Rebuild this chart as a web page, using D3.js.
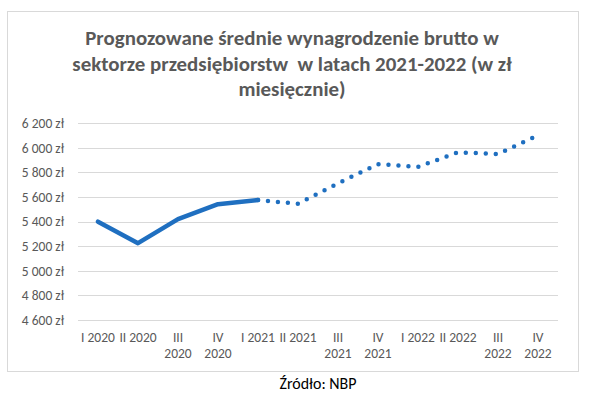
<!DOCTYPE html>
<html>
<head>
<meta charset="utf-8">
<script src="https://cdn.jsdelivr.net/npm/d3@7.9.0/dist/d3.min.js"></script>
<style>
  html, body { margin: 0; padding: 0; background: #fff; }
  svg text { font-family: Carlito, Calibri, Lato, "Open Sans", sans-serif; }
</style>
</head>
<body>
<svg id="chart" width="593" height="395"></svg>
<script>
// quarters shown on the x axis (multi-line labels as Excel wraps them)
const quarters = ['I 2020', 'II 2020', 'III 2020', 'IV 2020', 'I 2021', 'II 2021',
                  'III 2021', 'IV 2021', 'I 2022', 'II 2022', 'III 2022', 'IV 2022'];
const quarterLabels = [['I 2020'], ['II 2020'], ['III', '2020'], ['IV', '2020'],
                       ['I 2021'], ['II 2021'], ['III', '2021'], ['IV', '2021'],
                       ['I 2022'], ['II 2022'], ['III', '2022'], ['IV', '2022']];

// actual wages (solid) and forecast (dotted), null = no value
const actual   = [5400, 5225, 5420, 5542, 5576, null, null, null, null, null, null, null];
const forecast = [null, null, null, null, 5576, 5545, 5712, 5868, 5845, 5964, 5950, 6102];

const yTicks = [4600, 4800, 5000, 5200, 5400, 5600, 5800, 6000, 6200];

const titleLines = ['Prognozowane średnie wynagrodzenie brutto w',
                    'sektorze przedsiębiorstw \u00a0w latach 2021-2022 (w zł',
                    'miesięcznie)'];
const source = 'Źródło: NBP';

const svg = d3.select('#chart');
const lineColor = '#1f6fc0';
const textGray = '#595959';

// chart border
svg.append('rect')
  .attr('x', 7.5).attr('y', 11.5)
  .attr('width', 571).attr('height', 360)
  .attr('fill', '#fff')
  .attr('stroke', '#d9d9d9').attr('stroke-width', 1);

// scales
const x = d3.scaleBand().domain(quarters).range([78, 558]);
const y = d3.scaleLinear().domain([4600, 6200]).range([320, 123.3]);
const cx = (q) => x(q) + x.bandwidth() / 2;

// gridlines
svg.append('g')
  .selectAll('line')
  .data(yTicks)
  .join('line')
  .attr('x1', 78).attr('x2', 558)
  .attr('y1', (d) => Math.round(y(d)) + 0.5)
  .attr('y2', (d) => Math.round(y(d)) + 0.5)
  .attr('stroke', '#d9d9d9').attr('stroke-width', 1);

// y axis labels
const fmt = d3.formatLocale({ decimal: ',', thousands: ' ', grouping: [3], currency: ['', ' zł'] }).format(',.0f');
svg.append('g')
  .selectAll('text')
  .data(yTicks)
  .join('text')
  .attr('x', 64)
  .attr('y', (d) => y(d))
  .attr('dy', '0.35em')
  .attr('text-anchor', 'end')
  .attr('font-size', 13.5)
  .attr('fill', textGray)
  .text((d) => fmt(d) + ' zł');

// x axis labels
const xl = svg.append('g')
  .selectAll('text')
  .data(quarters)
  .join('text')
  .attr('text-anchor', 'middle')
  .attr('font-size', 13.5)
  .attr('fill', textGray);
xl.each(function (q, i) {
  d3.select(this).selectAll('tspan')
    .data(quarterLabels[i])
    .join('tspan')
    .attr('x', cx(q))
    .attr('y', (_, j) => 342 + j * 16)
    .text((d) => d);
});

// lines
const line = d3.line()
  .defined((d) => d.v !== null)
  .x((d) => cx(d.q))
  .y((d) => y(d.v));

svg.append('path')
  .datum(quarters.map((q, i) => ({ q, v: forecast[i] })))
  .attr('d', line)
  .attr('fill', 'none')
  .attr('stroke', lineColor)
  .attr('stroke-width', 4.5)
  .attr('stroke-linecap', 'round')
  .attr('stroke-dasharray', '0 10');

svg.append('path')
  .datum(quarters.map((q, i) => ({ q, v: actual[i] })))
  .attr('d', line)
  .attr('fill', 'none')
  .attr('stroke', lineColor)
  .attr('stroke-width', 4.5)
  .attr('stroke-linecap', 'round')
  .attr('stroke-linejoin', 'round');

// title, fitted to the width of the reference lines
const title = svg.append('text')
  .attr('text-anchor', 'middle')
  .attr('font-weight', 'bold')
  .attr('font-size', 20)
  .attr('fill', textGray);
title.selectAll('tspan')
  .data(titleLines)
  .join('tspan')
  .attr('x', 292)
  .attr('y', (_, i) => 45 + i * 25.5)
  .text((d) => d);
const w0 = title.select('tspan').node().getComputedTextLength();
title.attr('font-size', 20 * 414 / w0);

// source note
const src = svg.append('text')
  .attr('x', 318).attr('y', 389)
  .attr('text-anchor', 'middle')
  .attr('font-size', 15)
  .attr('fill', '#000')
  .text(source);
const w1 = src.node().getComputedTextLength();
src.attr('font-size', 15 * 77 / w1);
</script>
</body>
</html>
